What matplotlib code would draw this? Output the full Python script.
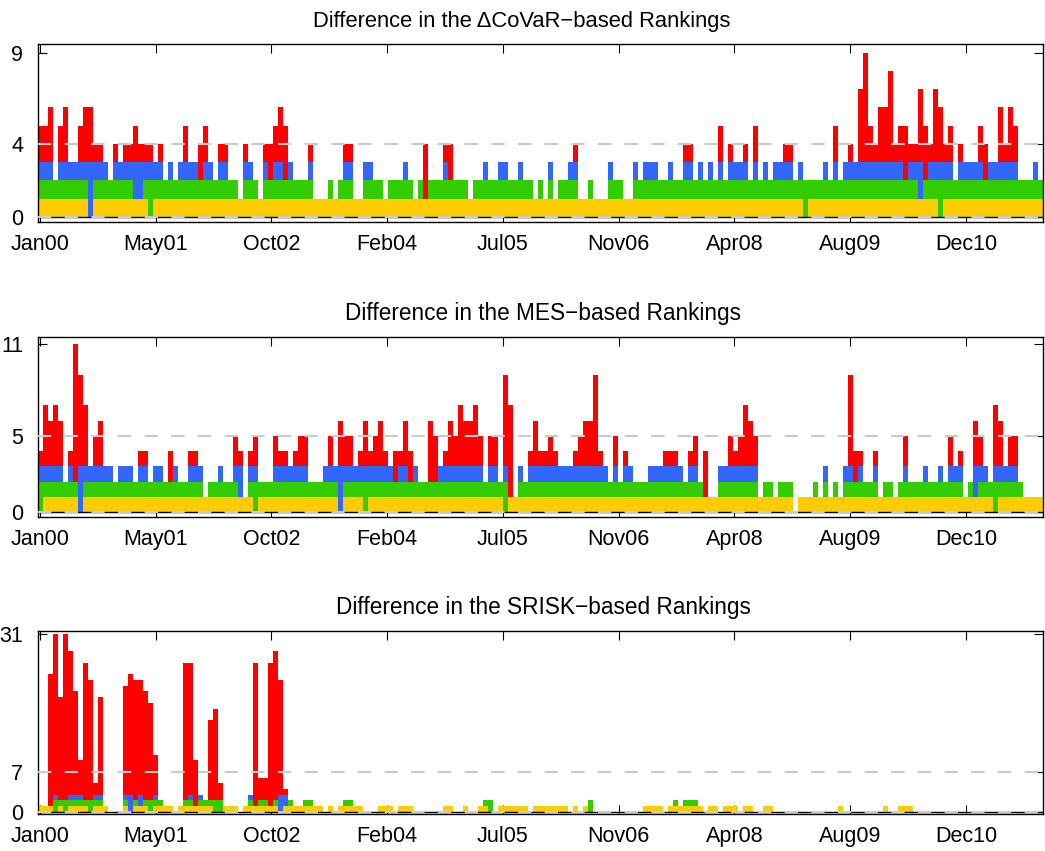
import numpy as np
import matplotlib
matplotlib.use("Agg")
import matplotlib.pyplot as plt

plt.rcParams['font.family'] = ['Liberation Sans', 'DejaVu Sans']

# ---------------- data ----------------
tick_labels = ["Jan00", "May01", "Oct02", "Feb04", "Jul05", "Nov06", "Apr08", "Aug09", "Dec10"]
titles = ["Difference in the \u0394CoVaR\u2212based Rankings",
          "Difference in the MES\u2212based Rankings",
          "Difference in the SRISK\u2212based Rankings"]
yticks = [[0, 4, 9], [0, 5, 11], [0, 7, 31]]

# one character per period (base-36 digit = ranking difference)
covar_yellow = """1111111111 0111111111 1101111111 1111111111 1111111111
1111111111 1111111111 1111111111 1111111111 1111111111
1111111111 1111111111 1111111111 1111111111 1111111111
1110111111 1111111111 1111111111 0111111111 1111111111 1"""
covar_green = """2222222222 0222222220 0222222222 2222222222 0222022222
2222200020 2220022220 2222202022 2222220222 2222222220
2020222200 2000222002 2222222222 2222222222 2222222222
2222222222 2222222222 2222220222 2222222222 2222222222 2"""
covar_blue = """3330333333 3333033333 3333303033 3303303300 0330030330
3000300000 0330033000 0003000000 0300000003 0033003000
0030003300 0000300003 0333003003 3030303033 3303030333
3030000303 0333333333 3330333033 3330333330 3333330003 0"""
covar_red = """5560560056 6440040445 4440400005 0045004400 0400044565
0000400000 0440000000 0000000400 0440000000 0000000000
0000000400 0000000000 0000000004 4000005040 0405000004
4000000005 0040795466 8455447547 6450400054 0064650000 0"""

mes_yellow = """0111111101 1111111111 1111111111 1111111111 1110111111
1111111111 0111101111 1111111111 1111111111 1110111111
1111111111 1111111111 1111111111 1111111111 1111111111
1011111111 1111111111 1111111111 1111111111 1011111111 1"""
mes_green = """2222222202 2222222222 2222222222 2220222222 0022222222
2222222222 0222222222 2222222222 2222222222 2222002222
2222222222 2222222222 2222222222 2220002222 2222022022
2000020202 0222222202 2022222222 2222202022 2222222000 0"""
mes_blue = """3333303033 3333303330 3303300300 3330003003 3033000333
3333000333 3333333333 3033030000 3333333330 3303003033
3333333333 3333030330 0033333330 3300003333 3333000000
0000000300 0330300300 0003000300 3033300333 0333330000 0"""
mes_red = """4767604b97 0560000000 4400004000 4400000005 4045000544
0455000050 6550464564 0446400065 0465766750 5509700046
4454000456 6940050400 0000044400 4504000054 5765000000
0000000000 0094400400 0005000000 0050400650 0760550000 0"""

srisk_yellow = """1110101111 0111000101 1101111011 1111100111 0111111101
1111111010 1111100011 1011100000 0110010011 0011111101
1111110101 0000000000 0111101111 1110110111 0110011000
0000000000 1000000001 0011100000 0000000000 0000000000 0"""
srisk_green = """0002222222 2220000202 0222200002 2022222000 0020220200
2002200000 0220000000 0000000000 0000000002 2000000000
0000000000 2000000000 0000000202 2200000000 0000000000
0000000000 0000000000 0000000000 0000000000 0000000000 0"""
srisk_blue = """0003003330 0330000330 3003000000 3030000000 0030000033
0000000000 0000000000 0000000000 0000000000 0000000000
0000000000 0000000000 0000000000 0000000000 0000000000
0000000000 0000000000 0000000000 0000000000 0000000000 0"""
srisk_red_head = [0, 0, 24, 31, 20, 31, 28, 21, 9, 26,
                  23, 5, 20, 0, 0, 0, 0, 22, 24, 23,
                  23, 21, 19, 10, 0, 0, 0, 0, 0, 26,
                  26, 9, 0, 0, 16, 18, 5, 0, 0, 0,
                  0, 0, 0, 26, 6, 6, 26, 28, 23, 4]


def parse(s):
    return np.array([int(c, 36) for c in "".join(s.split())])


panels = [
    [parse(covar_red), parse(covar_blue), parse(covar_green), parse(covar_yellow)],
    [parse(mes_red), parse(mes_blue), parse(mes_green), parse(mes_yellow)],
    [None, parse(srisk_blue), parse(srisk_green), parse(srisk_yellow)],
]
n = len(panels[0][0])
srisk_red = np.zeros(n, dtype=int)
srisk_red[:len(srisk_red_head)] = srisk_red_head
panels[2][0] = srisk_red

# ---------------- style / layout ----------------
colors = ['#ff0000', '#3366ff', '#33cc00', '#ffcc00']
W, H = 1045, 851
rects = [[0.0368, 0.7395, 0.9617, 0.2088],
         [0.0368, 0.3928, 0.9617, 0.2115],
         [0.0368, 0.0435, 0.9617, 0.2154]]
ylims = [(-0.27, 9.48), (-0.31, 11.5), (-0.35, 31.57)]
tick_pos = [0.3 + 23.15 * k for k in range(len(tick_labels))]
title_x = [0.481, 0.502, 0.502]
title_fs = [15.8, 16.3, 16.3]

fig = plt.figure(figsize=(W / 100, H / 100), dpi=100)
x = np.arange(n) + 0.5
for i in range(3):
    ax = fig.add_axes(rects[i])
    for vals, c in zip(panels[i], colors):
        ax.bar(x, vals, width=1.0, color=c, linewidth=0, zorder=2)
    mid = yticks[i][1]
    ax.axhline(0, color='black', lw=1.0, zorder=3)
    ax.axhline(0, color='#cbcbcb', lw=1.5, ls=(0, (6.4, 6.4)), zorder=4)
    ax.axhline(mid, color='#cbcbcb', lw=1.5, ls=(0, (6.4, 6.4)), zorder=4)
    ax.set_xlim(0, n)
    ax.set_ylim(*ylims[i])
    ax.set_yticks(yticks[i])
    ax.set_yticklabels([str(v) for v in yticks[i]])
    ax.set_xticks(tick_pos)
    ax.set_xticklabels(tick_labels)
    ax.tick_params(axis='both', direction='in', length=6.5, width=0.8,
                   top=True, right=True, labelsize=15.5)
    ax.tick_params(axis='y', pad=11)
    ax.tick_params(axis='x', pad=9)
    for sp in ax.spines.values():
        sp.set_linewidth(1.0)
    ax.set_title(titles[i], fontsize=title_fs[i], pad=12, x=title_x[i])

fig.savefig("out.png", dpi=100)
